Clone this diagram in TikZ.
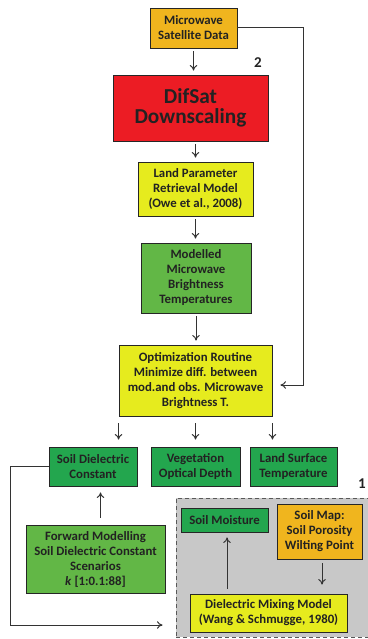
\documentclass[tikz,border=0pt]{standalone}
\usepackage{fontspec}
\setmainfont{Carlito}
\usetikzlibrary{arrows.meta}
\definecolor{cOrange}{HTML}{F0B51E}
\definecolor{cRed}{HTML}{EC1C24}
\definecolor{cYellow}{HTML}{E6EB1E}
\definecolor{cLGreen}{HTML}{62B746}
\definecolor{cGreen}{HTML}{23A64E}
\definecolor{cGray}{HTML}{C8C8C8}
\definecolor{cText}{HTML}{222222}
\begin{document}
\begin{tikzpicture}[x=1pt,y=-1pt,
  box/.style={draw=black!85, line width=0.9pt, inner sep=0pt, align=center, text=cText,
    font=\fontsize{12.8}{15}\selectfont\bfseries},
  arr/.style={-{To[length=5.5pt,width=7.5pt]}, line width=1pt, draw=black!80},
  lbl/.style={inner sep=0pt, text=cText, font=\fontsize{15}{15}\selectfont\bfseries}]
\useasboundingbox (0,0) rectangle (367,639);
% grey region
\node[draw=black!65, fill=cGray, dash pattern=on 4pt off 3pt, line width=1pt,
  minimum width=196pt, minimum height=139pt, inner sep=0pt] (region) at (274,567.5) {};
% boxes
\node[box, fill=cOrange, minimum width=87pt, minimum height=40pt] (sat) at (193.5,28) {Microwave\\Satellite Data};
\node[box, fill=cRed, minimum width=155pt, minimum height=66pt,
  font=\fontsize{21.3}{20}\selectfont\bfseries] (dif) at (190.5,108) {DifSat\\Downscaling};
\node[box, fill=cYellow, minimum width=115pt, minimum height=54pt] (lp) at (195.5,189) {Land Parameter\\Retrieval Model\\(Owe et al., 2008)};
\node[box, fill=cLGreen, minimum width=110pt, minimum height=70pt] (mod) at (196,278) {Modelled\\Microwave\\Brightness\\Temperatures};
\node[box, fill=cYellow, minimum width=153pt, minimum height=71pt] (opt) at (195.5,380.5) {Optimization Routine\\Minimize diff. between\\mod.and obs. Microwave\\Brightness T.};
\node[box, fill=cGreen, minimum width=88pt, minimum height=39pt] (sdc) at (93,466.5) {Soil Dielectric\\Constant};
\node[box, fill=cGreen, minimum width=89pt, minimum height=39pt] (veg) at (195.5,466.5) {Vegetation\\Optical Depth};
\node[box, fill=cGreen, minimum width=87pt, minimum height=39pt] (lst) at (293.5,466.5) {Land Surface\\Temperature};
\node[box, fill=cLGreen, minimum width=139pt, minimum height=68pt] (fwd) at (95.5,559) {Forward Modelling\\Soil Dielectric Constant\\Scenarios\\\textit{k} [1:0.1:88]};
\node[box, fill=cGreen, minimum width=87pt, minimum height=24pt] (sm) at (224.5,520) {Soil Moisture};
\node[box, fill=cOrange, minimum width=85pt, minimum height=55pt] (smap) at (319.5,531.5) {Soil Map:\\Soil Porosity\\Wilting Point};
\node[box, fill=cYellow, minimum width=157pt, minimum height=38pt] (dmm) at (268.5,613) {Dielectric Mixing Model\\(Wang \& Schmugge, 1980)};
% labels
\node[lbl] (n2) at (258,63) {2};
\node[lbl] (n1) at (362,484) {1};
% coordinates
\coordinate (fbs) at (303,385);
\coordinate (fbc) at (10,625);
% arrows
\draw[arr, shorten <=3pt, shorten >=4pt] (sat.south) -- (sat.south |- dif.north);
\draw[arr, shorten <=3pt, shorten >=4pt] (lp.north |- dif.south) -- (lp.north);
\draw[arr, shorten <=3pt, shorten >=4pt] (lp.south) -- (lp.south |- mod.north);
\draw[arr, shorten <=3pt, shorten >=4pt] (mod.south) -- (mod.south |- opt.north);
\draw[arr, shorten <=7pt, shorten >=7pt] (opt.south west) -- (opt.south west |- sdc.north);
\draw[arr, shorten <=7pt, shorten >=7pt] (opt.south) -- (opt.south |- veg.north);
\draw[arr, shorten <=7pt, shorten >=7pt] (opt.south east) -- (opt.south east |- lst.north);
\draw[arr, shorten <=7pt, shorten >=6pt] ([xshift=5pt]fwd.north) -- ([xshift=5pt]fwd.north |- sdc.south);
\draw[arr, shorten >=13pt] (sdc.west) -| (fbc) -- (region.west |- fbc);
\draw[arr, shorten >=8pt] (sat.east) -| (fbs) -- (opt.east |- fbs);
\draw[arr, shorten <=4pt, shorten >=9pt] ([xshift=2.5pt]smap.south) -- ([xshift=2.5pt]smap.south |- dmm.north);
\draw[arr, shorten <=5pt, shorten >=5pt] ([xshift=2.5pt]sm.south |- dmm.north) -- ([xshift=2.5pt]sm.south);
\end{tikzpicture}
\end{document}
